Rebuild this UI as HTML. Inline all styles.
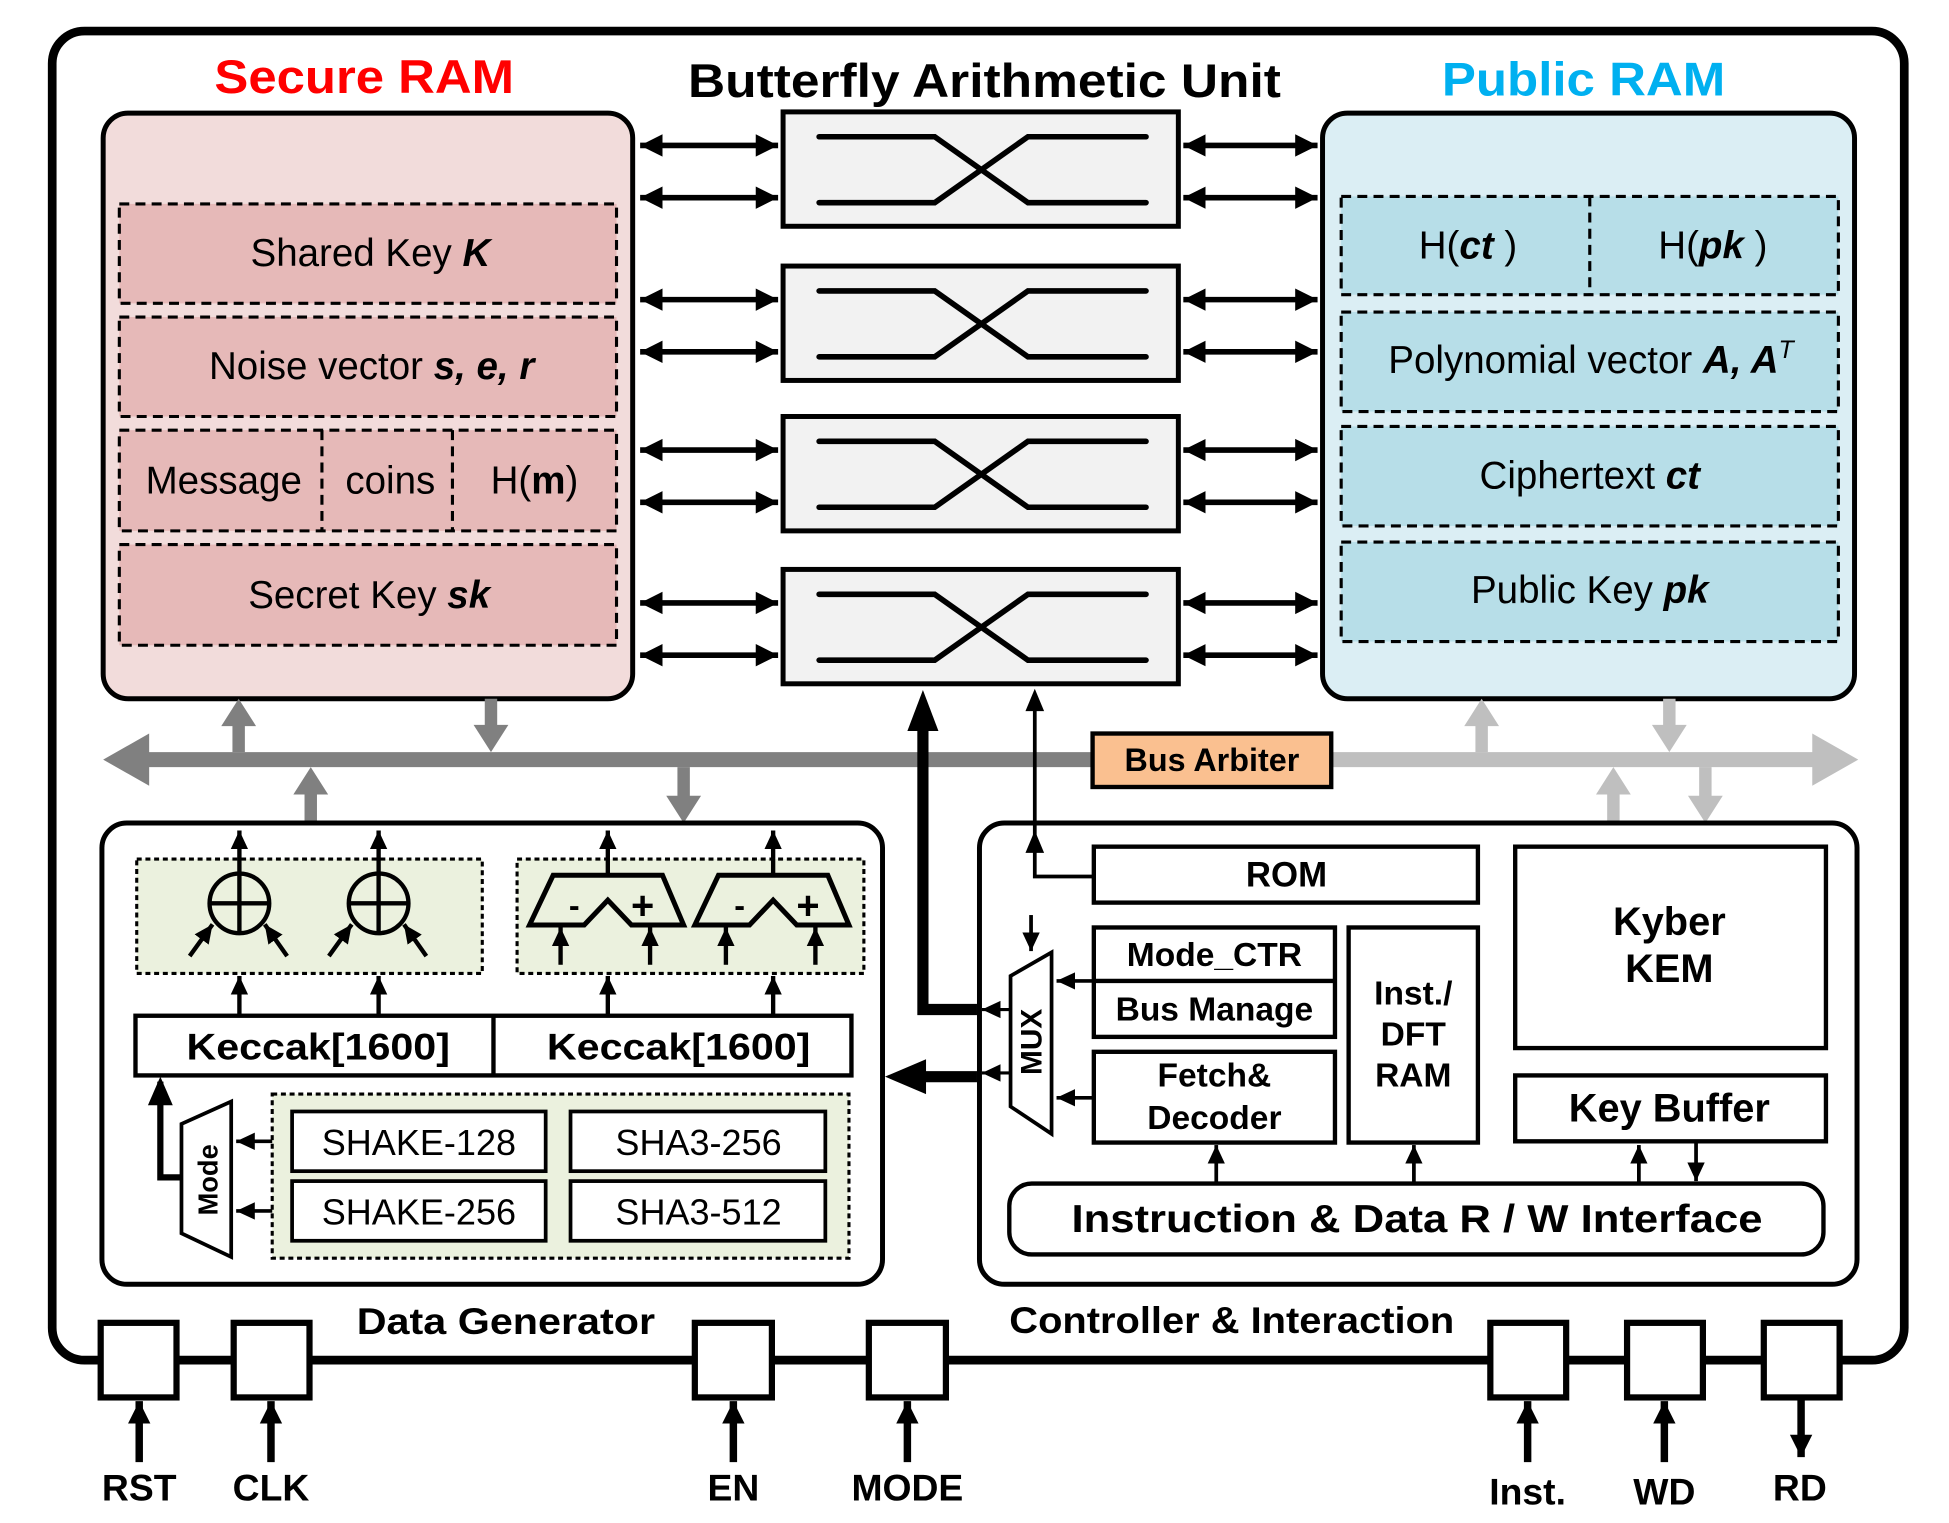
<!DOCTYPE html>
<html><head><meta charset="utf-8"><style>
html,body{margin:0;padding:0;background:#fff;}
svg{display:block;}
text{font-family:"Liberation Sans",sans-serif;}
</style></head><body>
<svg width="1949" height="1523" viewBox="0 0 1568 1225" preserveAspectRatio="none" xmlns="http://www.w3.org/2000/svg">
<defs>
<marker id="a" markerUnits="userSpaceOnUse" markerWidth="20" markerHeight="20" refX="18" refY="10" orient="auto-start-reverse"><path d="M0,1 L18,10 L0,19 z" fill="#000"/></marker>
<marker id="s" markerUnits="userSpaceOnUse" markerWidth="16" markerHeight="16" refX="15" refY="8" orient="auto-start-reverse"><path d="M0,1 L15,8 L0,15 z" fill="#000"/></marker>
</defs>
<rect width="1568" height="1225" fill="#fff"/>
<rect x="42" y="25" width="1490" height="1069" rx="26" fill="none" stroke="#000" stroke-width="7"/>

<text x="293" y="75" font-size="38" font-weight="bold" fill="#ff0000" text-anchor="middle" textLength="241" lengthAdjust="spacingAndGlyphs">Secure RAM</text>
<text x="792" y="78" font-size="38" font-weight="bold" fill="#000" text-anchor="middle" textLength="477" lengthAdjust="spacingAndGlyphs">Butterfly Arithmetic Unit</text>
<text x="1274" y="77" font-size="38" font-weight="bold" fill="#00b0f0" text-anchor="middle" textLength="228" lengthAdjust="spacingAndGlyphs">Public RAM</text>

<rect x="83" y="91" width="426" height="471" rx="20" fill="#f2dcdb" stroke="#000" stroke-width="4"/>
<g fill="#e6b9b8" stroke="#000" stroke-width="2.5" stroke-dasharray="8,5">
<rect x="96" y="164" width="400" height="80"/>
<rect x="96" y="255" width="400" height="80"/>
<rect x="96" y="346" width="400" height="81"/>
<rect x="96" y="438" width="400" height="81"/>
<line x1="259" y1="346" x2="259" y2="427"/>
<line x1="364" y1="346" x2="364" y2="427"/>
</g>
<g font-size="31" fill="#000">
<text x="298" y="214" text-anchor="middle">Shared Key <tspan font-weight="bold" font-style="italic">K</tspan></text>
<text x="299" y="305" text-anchor="middle">Noise vector  <tspan font-weight="bold" font-style="italic">s, e, r</tspan></text>
<text x="180" y="397" text-anchor="middle">Message</text>
<text x="314" y="397" text-anchor="middle">coins</text>
<text x="430" y="397" text-anchor="middle">H(<tspan font-weight="bold">m</tspan>)</text>
<text x="297" y="489" text-anchor="middle">Secret Key <tspan font-weight="bold" font-style="italic">sk</tspan></text>
</g>

<rect x="1064" y="91" width="428" height="471" rx="20" fill="#dbeef4" stroke="#000" stroke-width="4"/>
<g fill="#b7dee8" stroke="#000" stroke-width="2.5" stroke-dasharray="8,5">
<rect x="1079" y="158" width="400" height="79"/>
<rect x="1079" y="251" width="400" height="80"/>
<rect x="1079" y="343" width="400" height="80"/>
<rect x="1079" y="436" width="400" height="80"/>
<line x1="1279" y1="158" x2="1279" y2="237"/>
</g>
<g font-size="31" fill="#000">
<text x="1181" y="208" text-anchor="middle">H(<tspan font-weight="bold" font-style="italic">ct</tspan> )</text>
<text x="1378" y="208" text-anchor="middle">H(<tspan font-weight="bold" font-style="italic">pk</tspan> )</text>
<text x="1280" y="300" text-anchor="middle">Polynomial vector <tspan font-weight="bold" font-style="italic">A, A</tspan><tspan font-style="italic" font-size="20" dy="-12">T</tspan></text>
<text x="1279" y="393" text-anchor="middle">Ciphertext <tspan font-weight="bold" font-style="italic">ct</tspan></text>
<text x="1279" y="485" text-anchor="middle">Public Key <tspan font-weight="bold" font-style="italic">pk</tspan></text>
</g>

<g id="bf">
<rect x="630" y="90" width="318" height="92" fill="#f2f2f2" stroke="#000" stroke-width="4"/>
<path d="M659,110 H752 L827,163 H922 M659,163 H752 L827,110 H922" fill="none" stroke="#000" stroke-width="4.5" stroke-linecap="round"/>
<line x1="515" y1="117" x2="626" y2="117" stroke="#000" stroke-width="4.5" marker-start="url(#a)" marker-end="url(#a)"/>
<line x1="515" y1="159" x2="626" y2="159" stroke="#000" stroke-width="4.5" marker-start="url(#a)" marker-end="url(#a)"/>
<line x1="952" y1="117" x2="1060" y2="117" stroke="#000" stroke-width="4.5" marker-start="url(#a)" marker-end="url(#a)"/>
<line x1="952" y1="159" x2="1060" y2="159" stroke="#000" stroke-width="4.5" marker-start="url(#a)" marker-end="url(#a)"/>
</g>
<use href="#bf" transform="translate(0,124)"/>
<use href="#bf" transform="translate(0,245)"/>
<use href="#bf" transform="translate(0,368)"/>

<polygon points="83,611 120,590 120,605 880,605 880,617 120,617 120,632" fill="#808080"/>
<polygon points="1070,605 1458,605 1458,590 1495,611 1458,632 1458,617 1070,617" fill="#bfbfbf"/>
<rect x="879" y="590" width="192" height="43" fill="#fac090" stroke="#000" stroke-width="3.5"/>
<text x="975" y="620" font-size="26" font-weight="bold" text-anchor="middle">Bus Arbiter</text>
<g fill="#808080">
<polygon points="187,605 187,584 178,584 192,562 206,584 197,584 197,605"/>
<polygon points="390,562 390,583 381,583 395,605 409,583 400,583 400,562"/>
<polygon points="245,662 245,639 236,639 250,617 264,639 255,639 255,662"/>
<polygon points="545,617 545,640 536,640 550,662 564,640 555,640 555,617"/>
</g>
<g fill="#bfbfbf">
<polygon points="1187,605 1187,584 1178,584 1192,562 1206,584 1197,584 1197,605"/>
<polygon points="1338,562 1338,583 1329,583 1343,605 1357,583 1348,583 1348,562"/>
<polygon points="1293,662 1293,639 1284,639 1298,617 1312,639 1303,639 1303,662"/>
<polygon points="1367,617 1367,640 1358,640 1372,662 1386,640 1377,640 1377,617"/>
</g>

<path d="M786,812 H742.5 V583" fill="none" stroke="#000" stroke-width="9"/>
<polygon points="730,588 742.5,555 755,588" fill="#000"/>
<path d="M786,866 H740" fill="none" stroke="#000" stroke-width="9"/>
<polygon points="745,852 712,866 745,880" fill="#000"/>
<path d="M880,705 H832.5 V570" fill="none" stroke="#000" stroke-width="3"/>
<polygon points="825,572 832.5,554 840,572" fill="#000"/>
<polygon points="825,686 832.5,668 840,686" fill="#000"/>

<rect x="82" y="662" width="628" height="371" rx="20" fill="#fff" stroke="#000" stroke-width="4"/>
<g fill="#ebf1de" stroke="#000" stroke-width="2.5" stroke-dasharray="4,3">
<rect x="110" y="691" width="278" height="92"/>
<rect x="416" y="691" width="279" height="92"/>
<rect x="219" y="880" width="464" height="132"/>
</g>
<g id="xr" stroke="#000" stroke-width="3.5" fill="none">
<ellipse cx="192.6" cy="726.6" rx="24" ry="24"/>
<line x1="168.6" y1="726.6" x2="216.6" y2="726.6"/>
<line x1="192.6" y1="702.6" x2="192.6" y2="750.6"/>
<line x1="192.6" y1="702" x2="192.6" y2="668" marker-end="url(#s)"/>
<line x1="152.6" y1="769" x2="171" y2="743.5" marker-end="url(#s)"/>
<line x1="231" y1="769" x2="213" y2="743.5" marker-end="url(#s)"/>
<line x1="192.6" y1="817" x2="192.6" y2="785" marker-end="url(#s)"/>
</g>
<use href="#xr" transform="translate(112,0)"/>
<g id="ad">
<polygon points="445,704 533,704 550,744 508,744 489,724 470,744 426,744" fill="none" stroke="#000" stroke-width="4"/>
<text x="462" y="737" font-size="26" font-weight="bold" text-anchor="middle">-</text>
<text x="517" y="739" font-size="32" font-weight="bold" text-anchor="middle">+</text>
<g stroke="#000" stroke-width="3.5">
<line x1="489" y1="704" x2="489" y2="668" marker-end="url(#s)"/>
<line x1="451" y1="776" x2="451" y2="746" marker-end="url(#s)"/>
<line x1="523" y1="776" x2="523" y2="746" marker-end="url(#s)"/>
<line x1="489" y1="817" x2="489" y2="785" marker-end="url(#s)"/>
</g>
</g>
<use href="#ad" transform="translate(133,0)"/>
<rect x="109" y="817" width="576" height="48" fill="#fff" stroke="#000" stroke-width="3.5"/>
<line x1="397" y1="817" x2="397" y2="865" stroke="#000" stroke-width="3.5"/>
<text x="256" y="852" font-size="30" font-weight="bold" text-anchor="middle" textLength="212" lengthAdjust="spacingAndGlyphs">Keccak[1600]</text>
<text x="546" y="852" font-size="30" font-weight="bold" text-anchor="middle" textLength="212" lengthAdjust="spacingAndGlyphs">Keccak[1600]</text>
<g fill="#fff" stroke="#000" stroke-width="3">
<rect x="235" y="894" width="204" height="48"/>
<rect x="459" y="894" width="205" height="48"/>
<rect x="235" y="950" width="204" height="48"/>
<rect x="459" y="950" width="205" height="48"/>
</g>
<g font-size="29" text-anchor="middle">
<text x="337" y="929">SHAKE-128</text>
<text x="562" y="929">SHA3-256</text>
<text x="337" y="985">SHAKE-256</text>
<text x="562" y="985">SHA3-512</text>
</g>
<polygon points="186,886 186,1011 146,992 146,904" fill="#fff" stroke="#000" stroke-width="3"/>
<text transform="translate(175,949) rotate(-90)" font-size="22" font-weight="bold" text-anchor="middle">Mode</text>
<line x1="219" y1="918" x2="190" y2="918" stroke="#000" stroke-width="3" marker-end="url(#s)"/>
<line x1="219" y1="974" x2="190" y2="974" stroke="#000" stroke-width="3" marker-end="url(#s)"/>
<path d="M146,947 H129 V870" fill="none" stroke="#000" stroke-width="5"/>
<polygon points="119,889 129,866 139,889" fill="#000"/>
<text x="407" y="1073" font-size="30" font-weight="bold" text-anchor="middle" textLength="240" lengthAdjust="spacingAndGlyphs">Data  Generator</text>

<rect x="788" y="662" width="706" height="371" rx="20" fill="none" stroke="#000" stroke-width="4"/>
<g fill="#fff" stroke="#000" stroke-width="3.5">
<rect x="880" y="681" width="309" height="45"/>
<rect x="1219" y="681" width="250" height="162"/>
<rect x="1219" y="865" width="250" height="53"/>
<rect x="880" y="746" width="194" height="88"/>
<rect x="880" y="846" width="194" height="73"/>
<rect x="1085" y="746" width="104" height="173"/>
<rect x="812" y="952" width="655" height="57" rx="18"/>
</g>
<line x1="880" y1="789" x2="1074" y2="789" stroke="#000" stroke-width="3.5"/>
<g font-weight="bold" text-anchor="middle">
<text x="1035" y="713" font-size="28">ROM</text>
<text x="1343" y="752" font-size="32">Kyber</text>
<text x="1343" y="790" font-size="32">KEM</text>
<text x="1343" y="902" font-size="32">Key Buffer</text>
<text x="977" y="777" font-size="27">Mode_CTR</text>
<text x="977" y="821" font-size="27">Bus Manage</text>
<text x="977" y="874" font-size="27">Fetch&amp;</text>
<text x="977" y="908" font-size="27">Decoder</text>
<text x="1137" y="808" font-size="27">Inst./</text>
<text x="1137" y="841" font-size="27">DFT</text>
<text x="1137" y="874" font-size="27">RAM</text>
<text x="1140" y="991" font-size="31" textLength="556" lengthAdjust="spacingAndGlyphs">Instruction &amp; Data R / W Interface</text>
</g>
<polygon points="846,766 846,912 813,890 813,785" fill="#fff" stroke="#000" stroke-width="3"/>
<text transform="translate(838,838) rotate(-90)" font-size="24" font-weight="bold" text-anchor="middle">MUX</text>
<g stroke="#000" stroke-width="3">
<line x1="880" y1="789" x2="850" y2="789" marker-end="url(#s)"/>
<line x1="880" y1="883" x2="850" y2="883" marker-end="url(#s)"/>
<line x1="829.5" y1="736" x2="829.5" y2="765" marker-end="url(#s)"/>
<line x1="813" y1="812" x2="790" y2="812" stroke-width="2.5" marker-end="url(#s)"/>
<line x1="813" y1="863" x2="790" y2="863" stroke-width="2.5" marker-end="url(#s)"/>
<line x1="978.5" y1="951" x2="978.5" y2="921" marker-end="url(#s)"/>
<line x1="1137.5" y1="951" x2="1137.5" y2="921" marker-end="url(#s)"/>
<line x1="1318.5" y1="951" x2="1318.5" y2="921" marker-end="url(#s)"/>
<line x1="1364.5" y1="918" x2="1364.5" y2="950" marker-end="url(#s)"/>
</g>
<text x="812" y="1072" font-size="30" font-weight="bold" textLength="358" lengthAdjust="spacingAndGlyphs">Controller &amp; Interaction</text>

<g fill="#fff" stroke="#000" stroke-width="5">
<rect x="81" y="1064" width="61" height="60"/>
<rect x="188" y="1064" width="61" height="60"/>
<rect x="559" y="1064" width="62" height="60"/>
<rect x="699" y="1064" width="62" height="60"/>
<rect x="1199" y="1064" width="61" height="60"/>
<rect x="1309" y="1064" width="61" height="60"/>
<rect x="1419" y="1064" width="61" height="60"/>
</g>
<g stroke="#000" stroke-width="6">
<line x1="112" y1="1176" x2="112" y2="1127" marker-end="url(#a)"/>
<line x1="218" y1="1176" x2="218" y2="1127" marker-end="url(#a)"/>
<line x1="590" y1="1176" x2="590" y2="1127" marker-end="url(#a)"/>
<line x1="730" y1="1176" x2="730" y2="1127" marker-end="url(#a)"/>
<line x1="1229" y1="1176" x2="1229" y2="1127" marker-end="url(#a)"/>
<line x1="1339" y1="1176" x2="1339" y2="1127" marker-end="url(#a)"/>
<line x1="1449" y1="1124" x2="1449" y2="1172" marker-end="url(#a)"/>
</g>
<g font-size="30" font-weight="bold" text-anchor="middle">
<text x="112" y="1207">RST</text>
<text x="218" y="1207">CLK</text>
<text x="590" y="1207">EN</text>
<text x="730" y="1207">MODE</text>
<text x="1229" y="1210">Inst.</text>
<text x="1339" y="1210">WD</text>
<text x="1448" y="1207">RD</text>
</g>
</svg>
</body></html>
